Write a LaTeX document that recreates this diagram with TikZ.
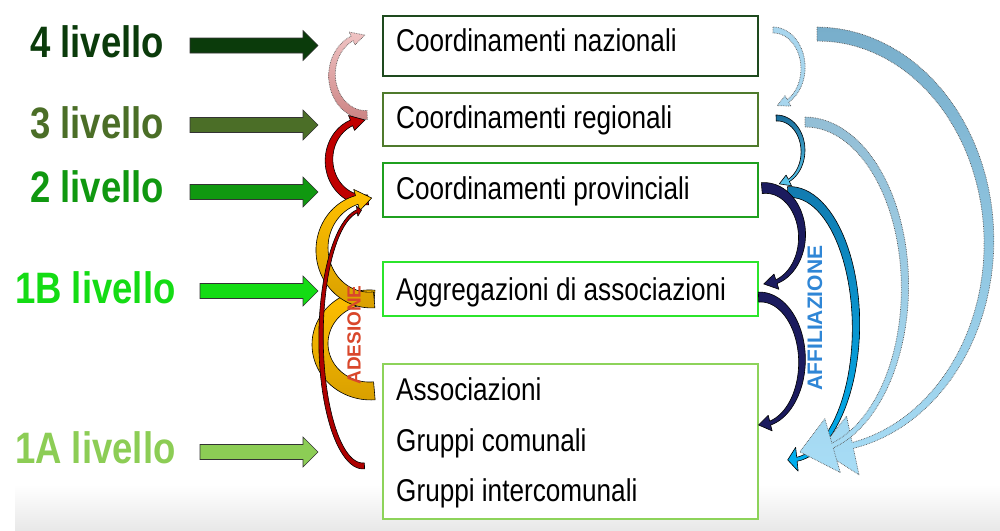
\documentclass[tikz,border=0pt]{standalone}
\usepackage{fontspec}
\setmainfont{Liberation Sans}
\newfontfamily\nar[FakeStretch=0.83]{Liberation Sans}
\definecolor{g4}{HTML}{0B3B0B}
\definecolor{g3}{HTML}{4B6E27}
\definecolor{g2}{HTML}{109810}
\definecolor{g1b}{HTML}{14DC14}
\definecolor{g1a}{HTML}{8CCD55}
\definecolor{b4}{HTML}{1E4A1E}
\definecolor{b3}{HTML}{4F7A2C}
\definecolor{b2}{HTML}{1FA01F}
\definecolor{b1b}{HTML}{2BE52B}
\definecolor{b1a}{HTML}{8DD35A}
\definecolor{pinkT}{HTML}{F0C4C4}
\definecolor{pinkB}{HTML}{CC8484}
\definecolor{redA}{HTML}{C00000}
\definecolor{yelT}{HTML}{FFC000}
\definecolor{yelB}{HTML}{D9A000}
\definecolor{navy}{HTML}{1B1B5E}
\definecolor{blueT}{HTML}{1A6E9C}
\definecolor{blueB}{HTML}{5CC9EE}
\definecolor{medT}{HTML}{127BB0}
\definecolor{medB}{HTML}{00B0F0}
\definecolor{ltT}{HTML}{78AECB}
\definecolor{ltB}{HTML}{A8DDF6}
\definecolor{dotl}{HTML}{A8D6EE}
\definecolor{adesc}{HTML}{D9472B}
\definecolor{affc}{HTML}{2F86D6}
\pgfkeys{/ca/.cd, cx/.store in=\cacx, cy/.store in=\cacy, rx/.store in=\carx, ry/.store in=\cary,
  t0/.store in=\caA, t1/.store in=\caB, dh/.store in=\caH, w0/.store in=\caWa, w1/.store in=\caWb,
  hw/.store in=\caHW}
\newcommand\CArrow[2]{%
  \pgfkeys{/ca/.cd,#2}%
  \pgfmathsetmacro\caM{\caB-\caH}%
  \path[#1] plot[domain=\caA:\caM, samples=50, variable=\t]
    ({\cacx+(\carx+0.5*(\caWa+(\caWb-\caWa)*(\t-\caA)/(\caM-\caA)))*cos(\t)},
     {\cacy+(\cary+0.5*(\caWa+(\caWb-\caWa)*(\t-\caA)/(\caM-\caA)))*sin(\t)})
    -- ({\cacx+(\carx+\caHW)*cos(\caM)},{\cacy+(\cary+\caHW)*sin(\caM)})
    -- ({\cacx+\carx*cos(\caB)},{\cacy+\cary*sin(\caB)})
    -- ({\cacx+(\carx-\caHW)*cos(\caM)},{\cacy+(\cary-\caHW)*sin(\caM)})
    -- plot[domain=\caM:\caA, samples=50, variable=\t]
    ({\cacx+(\carx-0.5*(\caWa+(\caWb-\caWa)*(\t-\caA)/(\caM-\caA)))*cos(\t)},
     {\cacy+(\cary-0.5*(\caWa+(\caWb-\caWa)*(\t-\caA)/(\caM-\caA)))*sin(\t)})
    -- cycle;}
\newcommand\BArrow[4]{%
  \path[barrow, fill=#1] (#2,#4-7.5) -- (#3-15,#4-7.5) -- (#3-15,#4-15) -- (#3,#4)
    -- (#3-15,#4+15) -- (#3-15,#4+7.5) -- (#2,#4+7.5) -- cycle;}
\begin{document}
\begin{tikzpicture}[x=1pt,y=-1pt,
  box/.style={draw, line width=2pt, fill=white, minimum width=375pt, minimum height=#1, inner sep=0pt, anchor=north west},
  boxtxt/.style={font=\nar\fontsize{31.5}{32}\selectfont, anchor=base west, inner sep=0pt},
  lab/.style={font=\nar\bfseries\fontsize{44}{44}\selectfont, anchor=base west, inner sep=0pt},
  barrow/.style={draw=black!80, line width=0.6pt, line join=miter},
  curved/.style={draw=black, line width=0.6pt, line join=round},
  dotcurve/.style={draw=gray!70!black, line width=0.7pt, densely dotted, line join=round}]
\useasboundingbox (0,0) rectangle (1000,530);
\fill[white] (0,0) rectangle (1000,530);
\shade[top color=white, bottom color=black!9] (15,484) rectangle (1000,530);
% boxes
\node[box=60, draw=b4] (n4) at (382,15) {};
\node[box=53, draw=b3] (n3) at (382,92) {};
\node[box=54, draw=b2] (n2) at (382,162) {};
\node[box=54, draw=b1b] (n1b) at (382,261) {};
\node[box=155, draw=b1a] (n1a) at (382,363) {};
\node[boxtxt] (t4) at (396,51.5) {Coordinamenti nazionali};
\node[boxtxt] (t3) at (396,128) {Coordinamenti regionali};
\node[boxtxt] (t2) at (396,199) {Coordinamenti provinciali};
\node[boxtxt] (t1b) at (396,300) {Aggregazioni di associazioni};
\node[boxtxt] (t1a1) at (396,400) {Associazioni};
\node[boxtxt] (t1a2) at (396,451) {Gruppi comunali};
\node[boxtxt] (t1a3) at (396,501) {Gruppi intercomunali};
% level labels
\node[lab, text=g4] (l4) at (30,57) {4 livello};
\node[lab, text=g3] (l3) at (30,138) {3 livello};
\node[lab, text=g2] (l2) at (30,202) {2 livello};
\node[lab, text=g1b] (l1b) at (15,303) {1B livello};
\node[lab, text=g1a] (l1a) at (15,463) {1A livello};
% block arrows
\BArrow{g4}{190}{318}{45.5}
\BArrow{g3}{190}{318}{125}
\BArrow{g2}{190}{318}{192}
\BArrow{g1b}{200}{318}{291}
\BArrow{g1a}{200}{318}{452}
% ADESIONE arrows (left)
\CArrow{dotcurve, top color=pinkT, bottom color=pinkB}{cx=366,cy=75,rx=34,ry=40,t0=88,t1=268,dh=22,w0=9,w1=5,hw=7}
\CArrow{curved, fill=redA}{cx=365,cy=160,rx=36,ry=40,t0=85,t1=270,dh=22,w0=10,w1=6,hw=8}
\CArrow{curved, top color=yelT, bottom color=yelB}{cx=370,cy=344,rx=50,ry=47,t0=85,t1=275,dh=0,w0=18,w1=14,hw=0}
\CArrow{curved, top color=yelT, bottom color=yelB}{cx=370,cy=249,rx=48,ry=51,t0=85,t1=272,dh=18,w0=16,w1=9,hw=11}
\CArrow{curved, fill=redA!90!black}{cx=363,cy=338,rx=42,ry=128,t0=88,t1=268,dh=6,w0=6,w1=3,hw=5}
% AFFILIAZIONE arrows (right)
\CArrow{curved, top color=medT, bottom color=medB}{cx=790,cy=326,rx=66,ry=134,t0=268,t1=452,dh=8,w0=11,w1=4,hw=12}
\CArrow{dotcurve, top color=ltT, bottom color=ltB}{cx=817,cy=242,rx=172,ry=208,t0=270,t1=449,dh=11,w0=14,w1=6,hw=30}
\CArrow{dotcurve, top color=ltT!80!white, bottom color=ltB}{cx=805,cy=287,rx=100,ry=165,t0=270,t1=453,dh=19,w0=10,w1=5,hw=28}
\CArrow{dotcurve, fill=dotl}{cx=773,cy=68,rx=30,ry=38,t0=270,t1=442,dh=22,w0=6,w1=3,hw=6}
\CArrow{curved, top color=blueT, bottom color=blueB}{cx=777,cy=151,rx=26,ry=33,t0=268,t1=445,dh=22,w0=6,w1=2.5,hw=6}
\CArrow{curved, fill=navy}{cx=765,cy=236,rx=37,ry=48,t0=265,t1=452,dh=20,w0=11,w1=4,hw=8}
\CArrow{curved, fill=navy}{cx=760,cy=361,rx=42,ry=64,t0=268,t1=452,dh=16,w0=10,w1=4,hw=8}
% rotated labels
\node[rotate=90, text=adesc, font=\bfseries\fontsize{19}{19}\selectfont, inner sep=0pt] (ades) at (354,335) {ADESIONE};
\node[rotate=90, text=affc, font=\bfseries\fontsize{21}{21}\selectfont, inner sep=0pt] (affl) at (815,318) {AFFILIAZIONE};
\end{tikzpicture}
\end{document}
